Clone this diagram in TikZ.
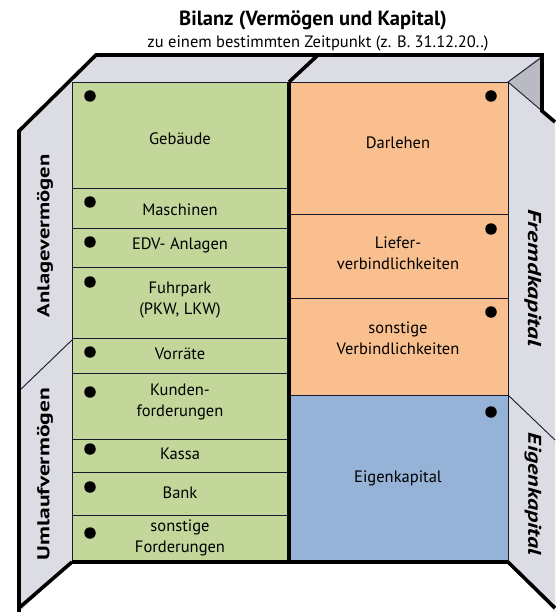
\documentclass[tikz,border=0pt]{standalone}
\usepackage{fontspec}
\setmainfont{PT Sans}
\definecolor{cellgreen}{RGB}{196,215,155}
\definecolor{cellorange}{RGB}{250,191,143}
\definecolor{cellblue}{RGB}{149,179,215}
\definecolor{flapgray}{RGB}{220,220,228}
\definecolor{sidegray}{RGB}{186,186,194}
\definecolor{edge}{RGB}{25,25,45}
\begin{document}
\begin{tikzpicture}[x=1pt,y=-1pt,
  cell/.style={draw=edge, line width=0.9pt},
  thinedge/.style={draw=edge, line width=0.9pt},
  heavy/.style={draw=black, line width=3.6pt, line join=miter},
  lab/.style={font=\fontsize{16.5}{21}\selectfont, align=center, inner sep=0pt},
  dot/.style={circle, fill=black, inner sep=0pt, minimum size=11.5pt},
  side/.style={inner sep=0pt, font=\bfseries}]
\useasboundingbox (0,0) rectangle (555,612);

% title
\node[font=\bfseries\fontsize{20.5}{22}\selectfont] (title) at (313,20) {Bilanz (Vermögen und Kapital)};
\node[font=\fontsize{16.5}{18}\selectfont] (subtitle) at (318,43) {zu einem bestimmten Zeitpunkt (z. B. 31.12.20..)};

% faces of the open box
\fill[flapgray] (96,55) -- (542,55) -- (508,82) -- (72,82) -- cycle;
\fill[sidegray] (508,82) -- (542,55) -- (542,111) -- cycle;
\fill[flapgray] (72,79) -- (19,131) -- (19,612) -- (72,562) -- cycle;
\fill[flapgray] (508,82) -- (555,121) -- (555,612) -- (508,562) -- cycle;

% flap edges
\draw[thinedge] (72,340) -- (19,391);
\draw[thinedge] (508,395) -- (555,440);
\draw[thinedge] (72,82) -- (508,82);
\draw[thinedge] (508,82) -- (542,57);
\draw[thinedge] (508,82) -- (542,111);

% left column: assets
\path[cell, fill=cellgreen] (72,82) rectangle (289,188);
\path[cell, fill=cellgreen] (72,188) rectangle (289,228);
\path[cell, fill=cellgreen] (72,228) rectangle (289,267);
\path[cell, fill=cellgreen] (72,267) rectangle (289,338);
\path[cell, fill=cellgreen] (72,338) rectangle (289,373);
\path[cell, fill=cellgreen] (72,373) rectangle (289,439);
\path[cell, fill=cellgreen] (72,439) rectangle (289,472);
\path[cell, fill=cellgreen] (72,472) rectangle (289,515);
\path[cell, fill=cellgreen] (72,515) rectangle (289,562);

% right column: capital
\path[cell, fill=cellorange] (289,82) rectangle (508,214);
\path[cell, fill=cellorange] (289,214) rectangle (508,298);
\path[cell, fill=cellorange] (289,298) rectangle (508,395);
\path[cell, fill=cellblue] (289,395) rectangle (508,562);

% heavy outline
\draw[heavy] (19,612) -- (19,131) -- (96,55) -- (542,55) -- (542,111) -- (555,122);
\draw[heavy] (289,82) -- (318,55);
\draw[heavy] (289,82) -- (289,562);
\draw[heavy] (72,562) -- (508,562);
\draw[heavy] (72,562) -- (19,608);
\draw[heavy] (508,562) -- (555,608);

% cell labels
\node[lab] (gebaeude) at (180,139) {Gebäude};
\node[lab] (maschinen) at (180,210) {Maschinen};
\node[lab] (edv) at (180,245) {EDV- Anlagen};
\node[lab] (fuhrpark) at (180,300) {Fuhrpark\\(PKW, LKW)};
\node[lab] (vorraete) at (180,354) {Vorräte};
\node[lab] (kunden) at (180,402) {Kunden-\\forderungen};
\node[lab] (kassa) at (180,454) {Kassa};
\node[lab] (bank) at (180,493) {Bank};
\node[lab] (sonstF) at (180,538) {sonstige\\Forderungen};
\node[lab] (darlehen) at (398,143) {Darlehen};
\node[lab] (liefer) at (398,253) {Liefer-\\verbindlichkeiten};
\node[lab] (sonstV) at (398,338) {sonstige\\Verbindlichkeiten};
\node[lab] (eigenkap) at (398,478) {Eigenkapital};

% dots
\foreach \y/\n in {96/a,202/b,242/c,282/d,352/e,392/f,449/g,487/h,533/i}
  \node[dot] (dotL\n) at (90,\y) {};
\foreach \y/\n in {96/a,229/b,312/c,412/d}
  \node[dot] (dotR\n) at (491,\y) {};

% flap labels
\node[side, rotate=90] (anlage) at (45,236) {\resizebox*{163pt}{16pt}{\bfseries Anlagevermögen}};
\node[side, rotate=90] (umlauf) at (45,474) {\resizebox*{172pt}{16pt}{\bfseries Umlaufvermögen}};
\node[side, rotate=-90] (fremd) at (533,278) {\resizebox*{137pt}{17pt}{\bfseries\itshape Fremdkapital}};
\node[side, rotate=-90] (eigen) at (533,494) {\resizebox*{122pt}{17pt}{\bfseries\itshape Eigenkapital}};
\end{tikzpicture}
\end{document}
